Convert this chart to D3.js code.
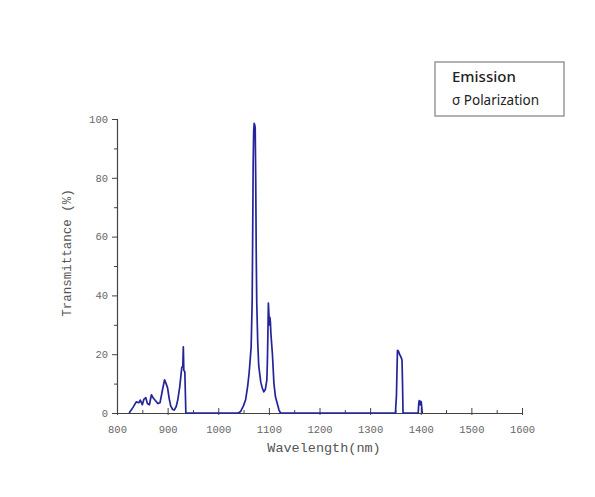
<!DOCTYPE html>
<meta charset="utf-8">
<style>
  body { margin: 0; background: #fff; }
  svg { display: block; }
</style>
<script src="https://d3js.org/d3.v7.min.js"></script>
<div id="chart"></div>
<script>

// values
var wavelength = [
  824, 832, 838, 843, 846, 850, 853, 857, 860, 864, 868, 872, 877, 881, 885, 890, 894, 897, 900,
  903, 906, 910, 913, 917, 920, 924, 928, 930, 931, 932, 934, 936,
  1040, 1044, 1050, 1054, 1058, 1061, 1063, 1065, 1067, 1068, 1069, 1070, 1071, 1072, 1073, 1074,
  1075, 1076, 1078, 1080, 1084, 1087, 1090, 1093, 1096, 1097, 1098, 1099, 1100, 1101, 1102, 1103,
  1104, 1107, 1110, 1113, 1117, 1120, 1123,
  1350, 1352, 1353, 1354, 1356, 1358, 1361, 1363, 1364, 1365,
  1395, 1396, 1397, 1398, 1399, 1400, 1401, 1403
]
var transmittance = [
  0, 2, 3.8, 3.5, 4.4, 2.8, 4.6, 5.2, 3.2, 2.8, 6.2, 5, 4, 3.2, 3.5, 8, 11.3, 10, 8.5,
  5, 2.4, 1.2, 1, 2.2, 4.4, 9, 15.5, 16, 22.5, 14.5, 14, 0,
  0, 0.5, 2.5, 4.5, 9, 13.6, 18, 22.5, 38, 60, 85, 96, 98.5, 98, 97, 80,
  55, 38, 24, 16, 10.5, 8.5, 7.2, 8, 11.2, 17, 26, 37.4, 34, 30, 32.5, 31,
  27, 20, 10, 5.5, 3, 1, 0,
  0, 6, 14, 21.3, 21, 20, 19, 18, 10, 0,
  0, 3, 4.2, 3.6, 2.8, 4, 3.7, 0
]
var xTicks = [800, 900, 1000, 1100, 1200, 1300, 1400, 1500, 1600]
var yTicks = [0, 20, 40, 60, 80, 100]
var legendLines = ["Emission", "σ Polarization"]

var width = 595
    height = 497

var svg = d3.select("#chart")
  .append("svg")
    .attr("width", width)
    .attr("height", height)

var x = d3.scaleLinear().domain([800, 1600]).range([117, 522])
var y = d3.scaleLinear().domain([0, 100]).range([413, 119])

var data = wavelength.map(function(w, i) { return [w, transmittance[i]] })

// minor ticks
svg.append("g")
  .attr("transform", "translate(0," + y(0) + ")")
  .call(d3.axisTop(x).tickValues(d3.range(850, 1600, 100)).tickSize(3).tickFormat(""))
  .call(function(g) { g.select(".domain").remove() })
  .selectAll("line").attr("stroke", "#444")
svg.append("g")
  .attr("transform", "translate(" + x(800) + ",0)")
  .call(d3.axisLeft(y).tickValues(d3.range(10, 100, 20)).tickSize(3).tickFormat(""))
  .call(function(g) { g.select(".domain").remove() })
  .selectAll("line").attr("stroke", "#444")

// x axis
var xa = svg.append("g")
  .attr("transform", "translate(0," + y(0) + ")")
  .call(d3.axisBottom(x).tickValues(xTicks).tickSize(0).tickPadding(13).tickFormat(d3.format("d")))
xa.select(".domain").attr("stroke", "#444").attr("stroke-width", 1.2)
xa.selectAll(".tick text")
  .attr("font-family", "Liberation Mono")
  .attr("font-size", "10.5px")
  .attr("fill", "#666")
xa.selectAll(".tick").append("line")
  .attr("y1", -5).attr("y2", 2)
  .attr("stroke", "#444")

// y axis
var ya = svg.append("g")
  .attr("transform", "translate(" + x(800) + ",0)")
  .call(d3.axisLeft(y).tickValues(yTicks).tickSize(5).tickPadding(4).tickFormat(d3.format("d")))
ya.select(".domain").attr("stroke", "#444").attr("stroke-width", 1.2)
ya.selectAll(".tick line").attr("stroke", "#444")
ya.selectAll(".tick text")
  .attr("font-family", "Liberation Mono")
  .attr("font-size", "10.5px")
  .attr("fill", "#666")

// axis titles
svg.append("text")
  .attr("x", 324).attr("y", 452)
  .attr("text-anchor", "middle")
  .attr("font-family", "Liberation Mono")
  .attr("font-size", "13.5px")
  .attr("fill", "#555")
  .text("Wavelength(nm)")

svg.append("text")
  .attr("transform", "translate(71,253) rotate(-90)")
  .attr("text-anchor", "middle")
  .attr("font-family", "Liberation Mono")
  .attr("font-size", "12.5px")
  .attr("fill", "#555")
  .text("Transmittance (%)")

// curve
svg.append("path")
  .datum(data)
  .attr("fill", "none")
  .attr("stroke", "#24249a")
  .attr("stroke-width", 1.7)
  .attr("stroke-linejoin", "round")
  .attr("d", d3.line()
    .x(function(d) { return x(d[0]) })
    .y(function(d) { return y(d[1]) })
  )

// legend box
svg.append("rect")
  .attr("x", 435).attr("y", 62)
  .attr("width", 129).attr("height", 54)
  .attr("fill", "#fff")
  .attr("stroke", "#999")
  .attr("stroke-width", 1.5)

svg.selectAll(".leg")
  .data(legendLines)
  .enter()
  .append("text")
    .attr("x", 452)
    .attr("y", function(d, i) { return 82 + i * 23 })
    .attr("font-family", "Noto Sans")
    .attr("font-size", function(d, i) { return i == 0 ? "15px" : "13.5px" })
    .attr("font-weight", function(d, i) { return i == 0 ? 500 : 400 })
    .attr("fill", "#222")
    .text(function(d) { return d })

</script>
